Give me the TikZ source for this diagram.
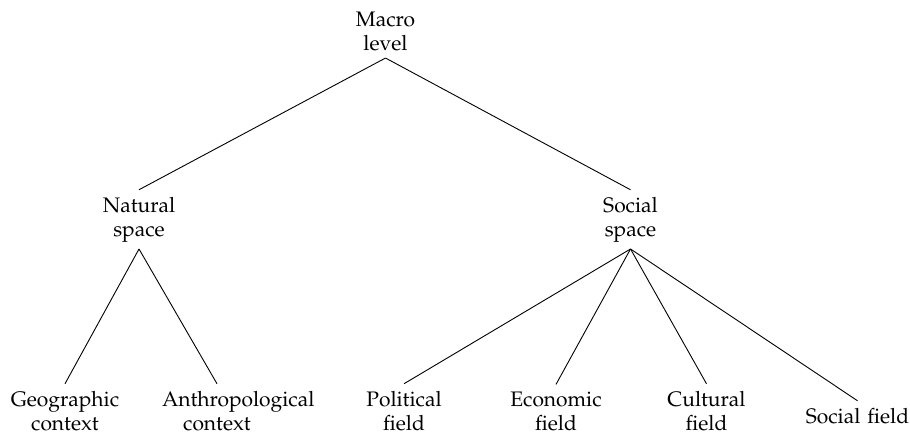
\documentclass[tikz,border=0pt]{standalone}
\usepackage[T1]{fontenc}
\usepackage{mathpazo}
\begin{document}
\begin{tikzpicture}[x=1pt,y=1pt,
  lbl/.style={text width=55pt, align=center, anchor=base, inner sep=3.33pt,
    font=\fontsize{10.5}{12}\selectfont},
  branch/.style={draw=black, line width=0.45pt}]
\useasboundingbox (0,0) rectangle (455,-217.5);
% root and first level
\node[lbl] (macro)   at (192.75,-13.25) {Macro\\level};
\node[lbl] (natural) at (69.5,-106)     {Natural\\space};
\node[lbl] (social)  at (315.25,-106)   {Social\\space};
% leaves
\node[lbl] (geo)     at (32.5,-203)     {Geographic\\context};
\node[lbl] (anthro)  at (108.5,-203)    {Anthropological\\context};
\node[lbl] (pol)     at (202,-203)      {Political\\field};
\node[lbl] (eco)     at (278,-203)      {Economic\\field};
\node[lbl] (cul)     at (353.25,-203)   {Cultural\\field};
\node[lbl] (sfield)  at (428.75,-211.5) {Social field};
% branches
\draw[branch] (macro.south) -- (natural.north);
\draw[branch] (macro.south) -- (social.north);
\draw[branch] (natural.south) -- (geo.north);
\draw[branch] (natural.south) -- (anthro.north);
\foreach \leaf in {pol,eco,cul,sfield}
  \draw[branch] (social.south) -- (\leaf.north);
\end{tikzpicture}
\end{document}
